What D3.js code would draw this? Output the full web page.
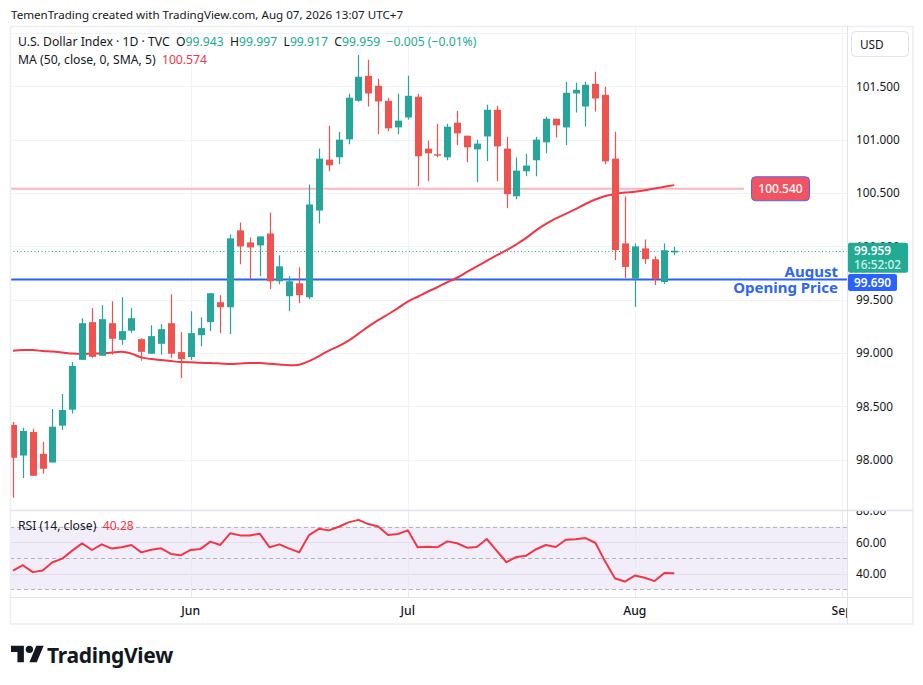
<!DOCTYPE html>
<html>
<head>
<meta charset="utf-8">
<script src="https://cdn.jsdelivr.net/npm/d3@7/dist/d3.min.js"></script>
<style>
  html, body { margin: 0; padding: 0; background: #ffffff; }
  svg { display: block; font-family: "Noto Sans", "DejaVu Sans", sans-serif; }
  .pre { white-space: pre; }
</style>
</head>
<body>
<svg id="chart" width="923" height="685"></svg>
<script>
// ---------------- DATA ----------------
const dates = [
  "2026-05-06","2026-05-07","2026-05-08",
  "2026-05-11","2026-05-12","2026-05-13","2026-05-14","2026-05-15",
  "2026-05-18","2026-05-19","2026-05-20","2026-05-21","2026-05-22",
  "2026-05-25","2026-05-26","2026-05-27","2026-05-28","2026-05-29",
  "2026-06-01","2026-06-02","2026-06-03","2026-06-04","2026-06-05",
  "2026-06-08","2026-06-09","2026-06-10","2026-06-11","2026-06-12",
  "2026-06-15","2026-06-16","2026-06-17","2026-06-18","2026-06-19",
  "2026-06-22","2026-06-23","2026-06-24","2026-06-25","2026-06-26",
  "2026-06-29","2026-06-30",
  "2026-07-01","2026-07-02","2026-07-03",
  "2026-07-06","2026-07-07","2026-07-08","2026-07-09","2026-07-10",
  "2026-07-13","2026-07-14","2026-07-15","2026-07-16","2026-07-17",
  "2026-07-20","2026-07-21","2026-07-22","2026-07-23","2026-07-24",
  "2026-07-27","2026-07-28","2026-07-29","2026-07-30","2026-07-31",
  "2026-08-03","2026-08-04","2026-08-05","2026-08-06","2026-08-07"
];
const open = [
  98.327, 98.040, 98.260, 98.056, 97.975, 98.320, 98.470, 98.937, 99.290, 98.975,
  99.280, 99.124, 99.210, 99.131, 98.994, 99.087, 99.280, 99.009, 98.963, 99.168,
  99.290, 99.477, 99.430, 100.150, 100.037, 100.009, 100.121, 99.673, 99.533, 99.654,
  99.523, 100.336, 100.813, 100.835, 101.003, 101.364, 101.598, 101.505, 101.364, 101.115,
  101.208, 101.402, 100.916, 100.863, 100.835, 101.159, 101.037, 100.909, 101.030, 101.280,
  100.916, 100.470, 100.704, 100.807, 100.975, 101.196, 101.115, 101.433, 101.311, 101.523,
  101.420, 100.822, 100.028, 99.698, 99.981, 99.879, 99.666, 99.943
];
const high = [
  98.355, 98.300, 98.290, 98.170, 98.477, 98.617, 98.916, 99.327, 99.420, 99.449,
  99.486, 99.523, 99.420, 99.140, 99.262, 99.271, 99.551, 99.196, 99.393, 99.336,
  99.561, 99.542, 100.112, 100.224, 100.084, 100.093, 100.318, 99.916, 99.720, 99.804,
  100.579, 100.916, 101.131, 101.075, 101.430, 101.794, 101.748, 101.570, 101.393, 101.430,
  101.598, 101.430, 100.993, 101.150, 101.150, 101.271, 101.037, 101.000, 101.327, 101.318,
  101.028, 100.832, 100.869, 101.028, 101.215, 101.196, 101.542, 101.533, 101.542, 101.636,
  101.495, 101.075, 100.467, 100.028, 100.065, 99.907, 100.028, 99.997
];
const low = [
  97.645, 97.830, 97.848, 97.870, 97.975, 98.280, 98.433, 98.937, 98.956, 98.975,
  98.984, 99.078, 99.190, 98.928, 98.994, 98.984, 98.956, 98.766, 98.935, 99.065,
  99.206, 99.187, 99.178, 99.832, 99.692, 99.720, 99.598, 99.645, 99.393, 99.467,
  99.505, 100.215, 100.704, 100.769, 100.956, 101.355, 101.311, 101.050, 101.078, 101.050,
  101.190, 100.564, 100.610, 100.835, 100.807, 100.947, 100.788, 100.601, 100.797, 100.610,
  100.358, 100.442, 100.657, 100.657, 100.872, 101.021, 100.947, 101.255, 101.124, 101.264,
  100.769, 99.872, 99.704, 99.433, 99.835, 99.638, 99.648, 99.917
];
const close = [
  98.019, 98.270, 97.850, 97.916, 98.310, 98.467, 98.880, 99.280, 98.965, 99.318,
  99.134, 99.206, 99.327, 99.012, 99.159, 99.224, 98.994, 98.944, 99.187, 99.234,
  99.561, 99.430, 100.075, 100.000, 99.990, 100.093, 99.673, 99.813, 99.673, 99.542,
  100.393, 100.822, 100.760, 101.000, 101.393, 101.589, 101.433, 101.358, 101.106, 101.178,
  101.411, 100.844, 100.872, 100.850, 101.121, 101.059, 100.928, 100.963, 101.280, 100.937,
  100.489, 100.710, 100.757, 101.000, 101.196, 101.134, 101.439, 101.467, 101.514, 101.386,
  100.797, 99.965, 99.807, 100.000, 99.881, 99.694, 99.964, 99.959
];
const ma50 = [
  99.023, 99.028, 99.028, 99.019, 99.014, 99.005, 98.995, 98.991, 98.995, 98.997,
  99.005, 99.012, 98.995, 98.960, 98.944, 98.935, 98.925, 98.916, 98.913, 98.909,
  98.907, 98.902, 98.897, 98.902, 98.907, 98.907, 98.900, 98.893, 98.885, 98.891,
  98.925, 98.972, 99.023, 99.065, 99.117, 99.182, 99.248, 99.308, 99.364, 99.421,
  99.483, 99.528, 99.575, 99.617, 99.664, 99.706, 99.760, 99.813, 99.864, 99.916,
  99.964, 100.019, 100.079, 100.150, 100.210, 100.262, 100.304, 100.350, 100.397, 100.439,
  100.472, 100.491, 100.505, 100.511, 100.525, 100.542, 100.558, 100.574
];
const rsi14 = [
  42.0, 45.4, 41.0, 42.0, 47.3, 49.6, 54.7, 59.3, 55.1, 58.7,
  56.0, 56.8, 58.3, 53.6, 55.3, 56.2, 52.6, 51.7, 55.1, 55.8,
  60.4, 58.3, 65.7, 64.4, 64.4, 65.5, 56.8, 58.7, 56.0, 53.6,
  64.6, 68.6, 67.6, 69.9, 72.7, 74.3, 71.6, 70.1, 64.6, 65.3,
  67.6, 56.8, 57.2, 56.8, 60.6, 59.4, 56.6, 57.0, 62.1, 54.7,
  47.3, 50.7, 51.5, 55.6, 58.3, 57.0, 61.6, 61.9, 62.7, 59.7,
  47.7, 36.9, 35.0, 38.8, 37.4, 35.3, 40.5, 40.28
];
const priceTicks = [98.0, 98.5, 99.0, 99.5, 100.0, 100.5, 101.0, 101.5, 102.0];
const rsiTicks = [40, 60, 80];
const rsiBands = [70, 50, 30];
const rsiGrid = [60, 40];
const monthLabels = ["Jun", "Jul", "Aug", "Sep"];
const monthStarts = ["2026-06-01", "2026-07-01", "2026-08-03", "2026-09-01"];
const openingPrice = 99.690;          // August opening price
const resistanceLevel = 100.540;      // horizontal level
const countdown = "16:52:02";
const headerTitle = "TemenTrading created with TradingView.com, Aug 07, 2026 13:07 UTC+7";
const symbolTitle = "U.S. Dollar Index \u00b7 1D \u00b7 TVC";

// ---------------- LAYOUT ----------------
const W = 923, H = 685;
const L = 10, R = 847, RIGHT = 913;
const mainTop = 26, mainBottom = 510.5;
const rsiTop = 510.5, rsiBottom = 597.5;
const axisBottom = 624;

const C_GREEN = "#26a69a", C_RED = "#ef5350";
const C_TEXT = "#131722", C_GRID = "#f0f3fa", C_BORDER = "#e0e3eb";
const C_BLUE = "#2962ff";

// index in trading days (weekdays) from first date
function tradingIndex(ds) {
  const start = new Date(dates[0] + "T00:00:00Z");
  const end = new Date(ds + "T00:00:00Z");
  let n = 0;
  for (let d = new Date(start); d < end; d.setUTCDate(d.getUTCDate() + 1)) {
    const wd = d.getUTCDay();
    if (wd !== 0 && wd !== 6) n++;
  }
  return n;
}

const x = d3.scaleLinear().domain([0, dates.length - 1]).range([13, 674.3]);
const y = d3.scaleLinear().domain([98, 101.5]).range([459.8, 86.3]);
const yr = d3.scaleLinear().domain([30, 70]).range([589.4, 526.6]);

const svg = d3.select("#chart");
svg.append("rect").attr("width", W).attr("height", H).attr("fill", "#ffffff");

const defs = svg.append("defs");
defs.append("clipPath").attr("id", "clipMain").append("rect")
  .attr("x", L + 0.5).attr("y", mainTop).attr("width", R - L - 0.5).attr("height", mainBottom - mainTop);
defs.append("clipPath").attr("id", "clipRsi").append("rect")
  .attr("x", L + 0.5).attr("y", rsiTop).attr("width", R - L - 0.5).attr("height", rsiBottom - rsiTop);
defs.append("clipPath").attr("id", "clipRsiAxis").append("rect")
  .attr("x", R).attr("y", rsiTop + 0.5).attr("width", RIGHT - R).attr("height", rsiBottom - rsiTop);
defs.append("clipPath").attr("id", "clipTime").append("rect")
  .attr("x", L).attr("y", rsiBottom).attr("width", R - L).attr("height", axisBottom - rsiBottom);

// header
svg.append("text").attr("x", 11).attr("y", 18.5)
  .attr("font-size", 11.6).attr("fill", C_TEXT).text(headerTitle);

// ---------------- MAIN PANE ----------------
const main = svg.append("g").attr("clip-path", "url(#clipMain)");
const monthIdx = monthStarts.map(tradingIndex);

// grids
main.selectAll("line.hg").data(priceTicks).join("line")
  .attr("class", "hg")
  .attr("x1", L).attr("x2", R)
  .attr("y1", d => Math.round(y(d)) + 0.5).attr("y2", d => Math.round(y(d)) + 0.5)
  .attr("stroke", C_GRID).attr("stroke-width", 1);
main.selectAll("line.vg").data(monthIdx).join("line")
  .attr("class", "vg")
  .attr("x1", d => Math.round(x(d)) + 0.5).attr("x2", d => Math.round(x(d)) + 0.5)
  .attr("y1", mainTop).attr("y2", mainBottom)
  .attr("stroke", C_GRID).attr("stroke-width", 1);

// resistance level (light red)
main.append("line")
  .attr("x1", L).attr("x2", 744)
  .attr("y1", y(resistanceLevel)).attr("y2", y(resistanceLevel))
  .attr("stroke", "#f7b7bc").attr("stroke-width", 2);

// August opening line
main.append("line")
  .attr("x1", L).attr("x2", R)
  .attr("y1", y(openingPrice)).attr("y2", y(openingPrice))
  .attr("stroke", C_BLUE).attr("stroke-width", 2);

// last price dotted line
const lastIdx = dates.length - 1;
main.append("line")
  .attr("x1", L).attr("x2", R)
  .attr("y1", Math.round(y(close[lastIdx])) + 0.5).attr("y2", Math.round(y(close[lastIdx])) + 0.5)
  .attr("stroke", "#22ab94").attr("stroke-width", 1).attr("stroke-dasharray", "1 2.5");

// MA line
main.append("path")
  .datum(ma50)
  .attr("d", d3.line().x((d, i) => x(i)).y(d => y(d)).curve(d3.curveMonotoneX))
  .attr("fill", "none").attr("stroke", "#f23645").attr("stroke-width", 2);

// candles
const idx = d3.range(dates.length);
const candles = main.append("g").selectAll("g").data(idx).join("g");
candles.append("line")
  .attr("x1", i => Math.round(x(i)) + 0.5).attr("x2", i => Math.round(x(i)) + 0.5)
  .attr("y1", i => y(high[i])).attr("y2", i => y(low[i]))
  .attr("stroke", i => close[i] >= open[i] ? C_GREEN : C_RED).attr("stroke-width", 1.2);
candles.append("rect")
  .attr("x", i => Math.round(x(i)) + 0.5 - 3.5)
  .attr("width", 7)
  .attr("y", i => y(Math.max(open[i], close[i])))
  .attr("height", i => Math.max(1, Math.abs(y(open[i]) - y(close[i]))))
  .attr("fill", i => close[i] >= open[i] ? C_GREEN : C_RED);

// August Opening Price text
main.append("text").attr("x", 838).attr("y", 277).attr("text-anchor", "end")
  .attr("font-size", 15).attr("font-weight", 700).attr("fill", "#2e66f6").text("August");
main.append("text").attr("x", 838).attr("y", 293).attr("text-anchor", "end")
  .attr("font-size", 15).attr("font-weight", 700).attr("fill", "#2e66f6").text("Opening Price");

// resistance label
const rl = svg.append("g");
rl.append("rect").attr("x", 751.5).attr("y", y(resistanceLevel) - 12).attr("width", 58).attr("height", 24)
  .attr("rx", 4).attr("fill", "#f15361").attr("stroke", "#4a6cf0").attr("stroke-width", 1);
rl.append("text").attr("x", 780.5).attr("y", y(resistanceLevel) + 4.5).attr("text-anchor", "middle")
  .attr("font-size", 12).attr("fill", "#ffffff").attr("font-weight", 500).text(resistanceLevel.toFixed(3));

// legend
const fmt3 = d3.format(".3f");
const lg = svg.append("text").attr("class", "pre").attr("x", 18).attr("y", 46).attr("font-size", 12.2).attr("fill", C_TEXT);
lg.append("tspan").text(symbolTitle + "  ");
const chg = close[lastIdx] - close[lastIdx - 1];
const pct = chg / close[lastIdx - 1] * 100;
[["O", open[lastIdx]], ["H", high[lastIdx]], ["L", low[lastIdx]], ["C", close[lastIdx]]].forEach(([k, v]) => {
  lg.append("tspan").attr("fill", C_TEXT).text(k);
  lg.append("tspan").attr("fill", "#22ab94").text(fmt3(v) + "  ");
});
lg.append("tspan").attr("fill", "#22ab94")
  .text((chg < 0 ? "\u2212" : "+") + Math.abs(chg).toFixed(3) + " (" + (pct < 0 ? "\u2212" : "+") + Math.abs(pct).toFixed(2) + "%)");

const mal = svg.append("text").attr("class", "pre").attr("x", 18).attr("y", 64).attr("font-size", 12.2).attr("fill", C_TEXT);
mal.append("tspan").text("MA (50, close, 0, SMA, 5)  ");
mal.append("tspan").attr("fill", "#f23645").text(fmt3(ma50[lastIdx]));

// ---------------- RSI PANE ----------------
const rsiG = svg.append("g").attr("clip-path", "url(#clipRsi)");
rsiG.append("rect").attr("x", L).attr("width", R - L)
  .attr("y", yr(70)).attr("height", yr(30) - yr(70))
  .attr("fill", "rgba(126, 87, 194, 0.1)");
rsiG.selectAll("line.rg").data(rsiGrid).join("line")
  .attr("class", "rg")
  .attr("x1", L).attr("x2", R)
  .attr("y1", d => Math.round(yr(d)) + 0.5).attr("y2", d => Math.round(yr(d)) + 0.5)
  .attr("stroke", "#e4dcef").attr("stroke-width", 1);
rsiG.selectAll("line.vg2").data(monthIdx).join("line")
  .attr("class", "vg2")
  .attr("x1", d => Math.round(x(d)) + 0.5).attr("x2", d => Math.round(x(d)) + 0.5)
  .attr("y1", rsiTop).attr("y2", rsiBottom)
  .attr("stroke", "#ebe8f2").attr("stroke-width", 1);
rsiG.selectAll("line.rb").data(rsiBands).join("line")
  .attr("class", "rb")
  .attr("x1", L).attr("x2", R)
  .attr("y1", d => Math.round(yr(d)) + 0.5).attr("y2", d => Math.round(yr(d)) + 0.5)
  .attr("stroke", "#b2b5be").attr("stroke-width", 1).attr("stroke-dasharray", "4 3");
rsiG.append("path").datum(rsi14)
  .attr("d", d3.line().x((d, i) => x(i)).y(d => yr(d)))
  .attr("fill", "none").attr("stroke", "#f23645").attr("stroke-width", 2).attr("stroke-linejoin", "round");

const rsl = svg.append("text").attr("class", "pre").attr("x", 18).attr("y", 530).attr("font-size", 12.2).attr("fill", C_TEXT);
rsl.append("tspan").text("RSI (14, close)  ");
rsl.append("tspan").attr("fill", "#f23645").text(rsi14[lastIdx].toFixed(2));

// ---------------- AXES ----------------
// price axis labels (the top one sits under the currency button)
const pa = svg.append("g");
pa.selectAll("text").data(priceTicks.filter(d => y(d) > 62)).join("text")
  .attr("x", 856).attr("y", d => y(d) + 4.3)
  .attr("font-size", 11.8).attr("fill", C_TEXT)
  .text(d => d.toFixed(3));

// USD box
svg.append("rect").attr("x", 851.5).attr("y", 31.5).attr("width", 57).attr("height", 25)
  .attr("rx", 4).attr("fill", "#ffffff").attr("stroke", C_BORDER);
svg.append("text").attr("x", 860).attr("y", 48.5).attr("font-size", 11.8).attr("fill", C_TEXT).text("USD");

// last price label
const lp = svg.append("g");
lp.append("rect").attr("x", 848).attr("y", y(close[lastIdx]) - 8).attr("width", 60).attr("height", 30)
  .attr("rx", 2).attr("fill", "#22ab94");
lp.append("text").attr("x", 854).attr("y", y(close[lastIdx]) + 4.5)
  .attr("font-size", 11.8).attr("font-weight", 600).attr("fill", "#ffffff").text(fmt3(close[lastIdx]));
lp.append("text").attr("x", 854).attr("y", y(close[lastIdx]) + 18)
  .attr("font-size", 11.8).attr("font-weight", 500).attr("fill", "#d4f1ec").text(countdown);

// opening price label
const op = svg.append("g");
op.append("rect").attr("x", 848).attr("y", y(openingPrice) - 5.5).attr("width", 49).attr("height", 17)
  .attr("rx", 2).attr("fill", C_BLUE);
op.append("text").attr("x", 854).attr("y", y(openingPrice) + 7.3)
  .attr("font-size", 11.8).attr("font-weight", 600).attr("fill", "#ffffff").text(fmt3(openingPrice));

// RSI axis labels
svg.append("g").attr("clip-path", "url(#clipRsiAxis)")
  .selectAll("text").data(rsiTicks).join("text")
  .attr("x", 856).attr("y", d => yr(d) + 4.3)
  .attr("font-size", 11.8).attr("fill", C_TEXT)
  .text(d => d.toFixed(2));

// time axis labels
svg.append("g").attr("clip-path", "url(#clipTime)")
  .selectAll("text").data(monthIdx).join("text")
  .attr("x", d => x(d)).attr("y", 615)
  .attr("text-anchor", "middle").attr("font-size", 12.2).attr("font-weight", 500).attr("fill", C_TEXT)
  .text((d, i) => monthLabels[i]);

// ---------------- FRAME ----------------
const fr = svg.append("g").attr("fill", "none").attr("stroke", C_BORDER).attr("stroke-width", 1);
fr.append("rect").attr("x", L + 0.5).attr("y", mainTop + 0.5).attr("width", RIGHT - L - 0.5).attr("height", axisBottom - mainTop - 0.5)
  .attr("stroke", "#eceef2").attr("stroke-width", 1.5);
fr.append("line").attr("x1", R + 0.5).attr("x2", R + 0.5).attr("y1", mainTop).attr("y2", axisBottom);
fr.append("line").attr("x1", L).attr("x2", RIGHT).attr("y1", mainBottom).attr("y2", mainBottom).attr("stroke-width", 1.5);
fr.append("line").attr("x1", L).attr("x2", RIGHT).attr("y1", rsiBottom).attr("y2", rsiBottom);

// ---------------- LOGO ----------------
const logo = svg.append("g").attr("transform", "translate(11,642) scale(0.92)").attr("fill", "#131722");
logo.append("path").attr("d", "M14 22H7V11H0V4h14v18zM28 22h-8l7.5-18h8L28 22z");
logo.append("circle").attr("cx", 20).attr("cy", 8).attr("r", 4);
svg.append("text").attr("x", 47).attr("y", 663).attr("font-size", 21).attr("font-weight", 700)
  .attr("fill", "#131722").attr("letter-spacing", -0.3).text("TradingView");
</script>
</body>
</html>
